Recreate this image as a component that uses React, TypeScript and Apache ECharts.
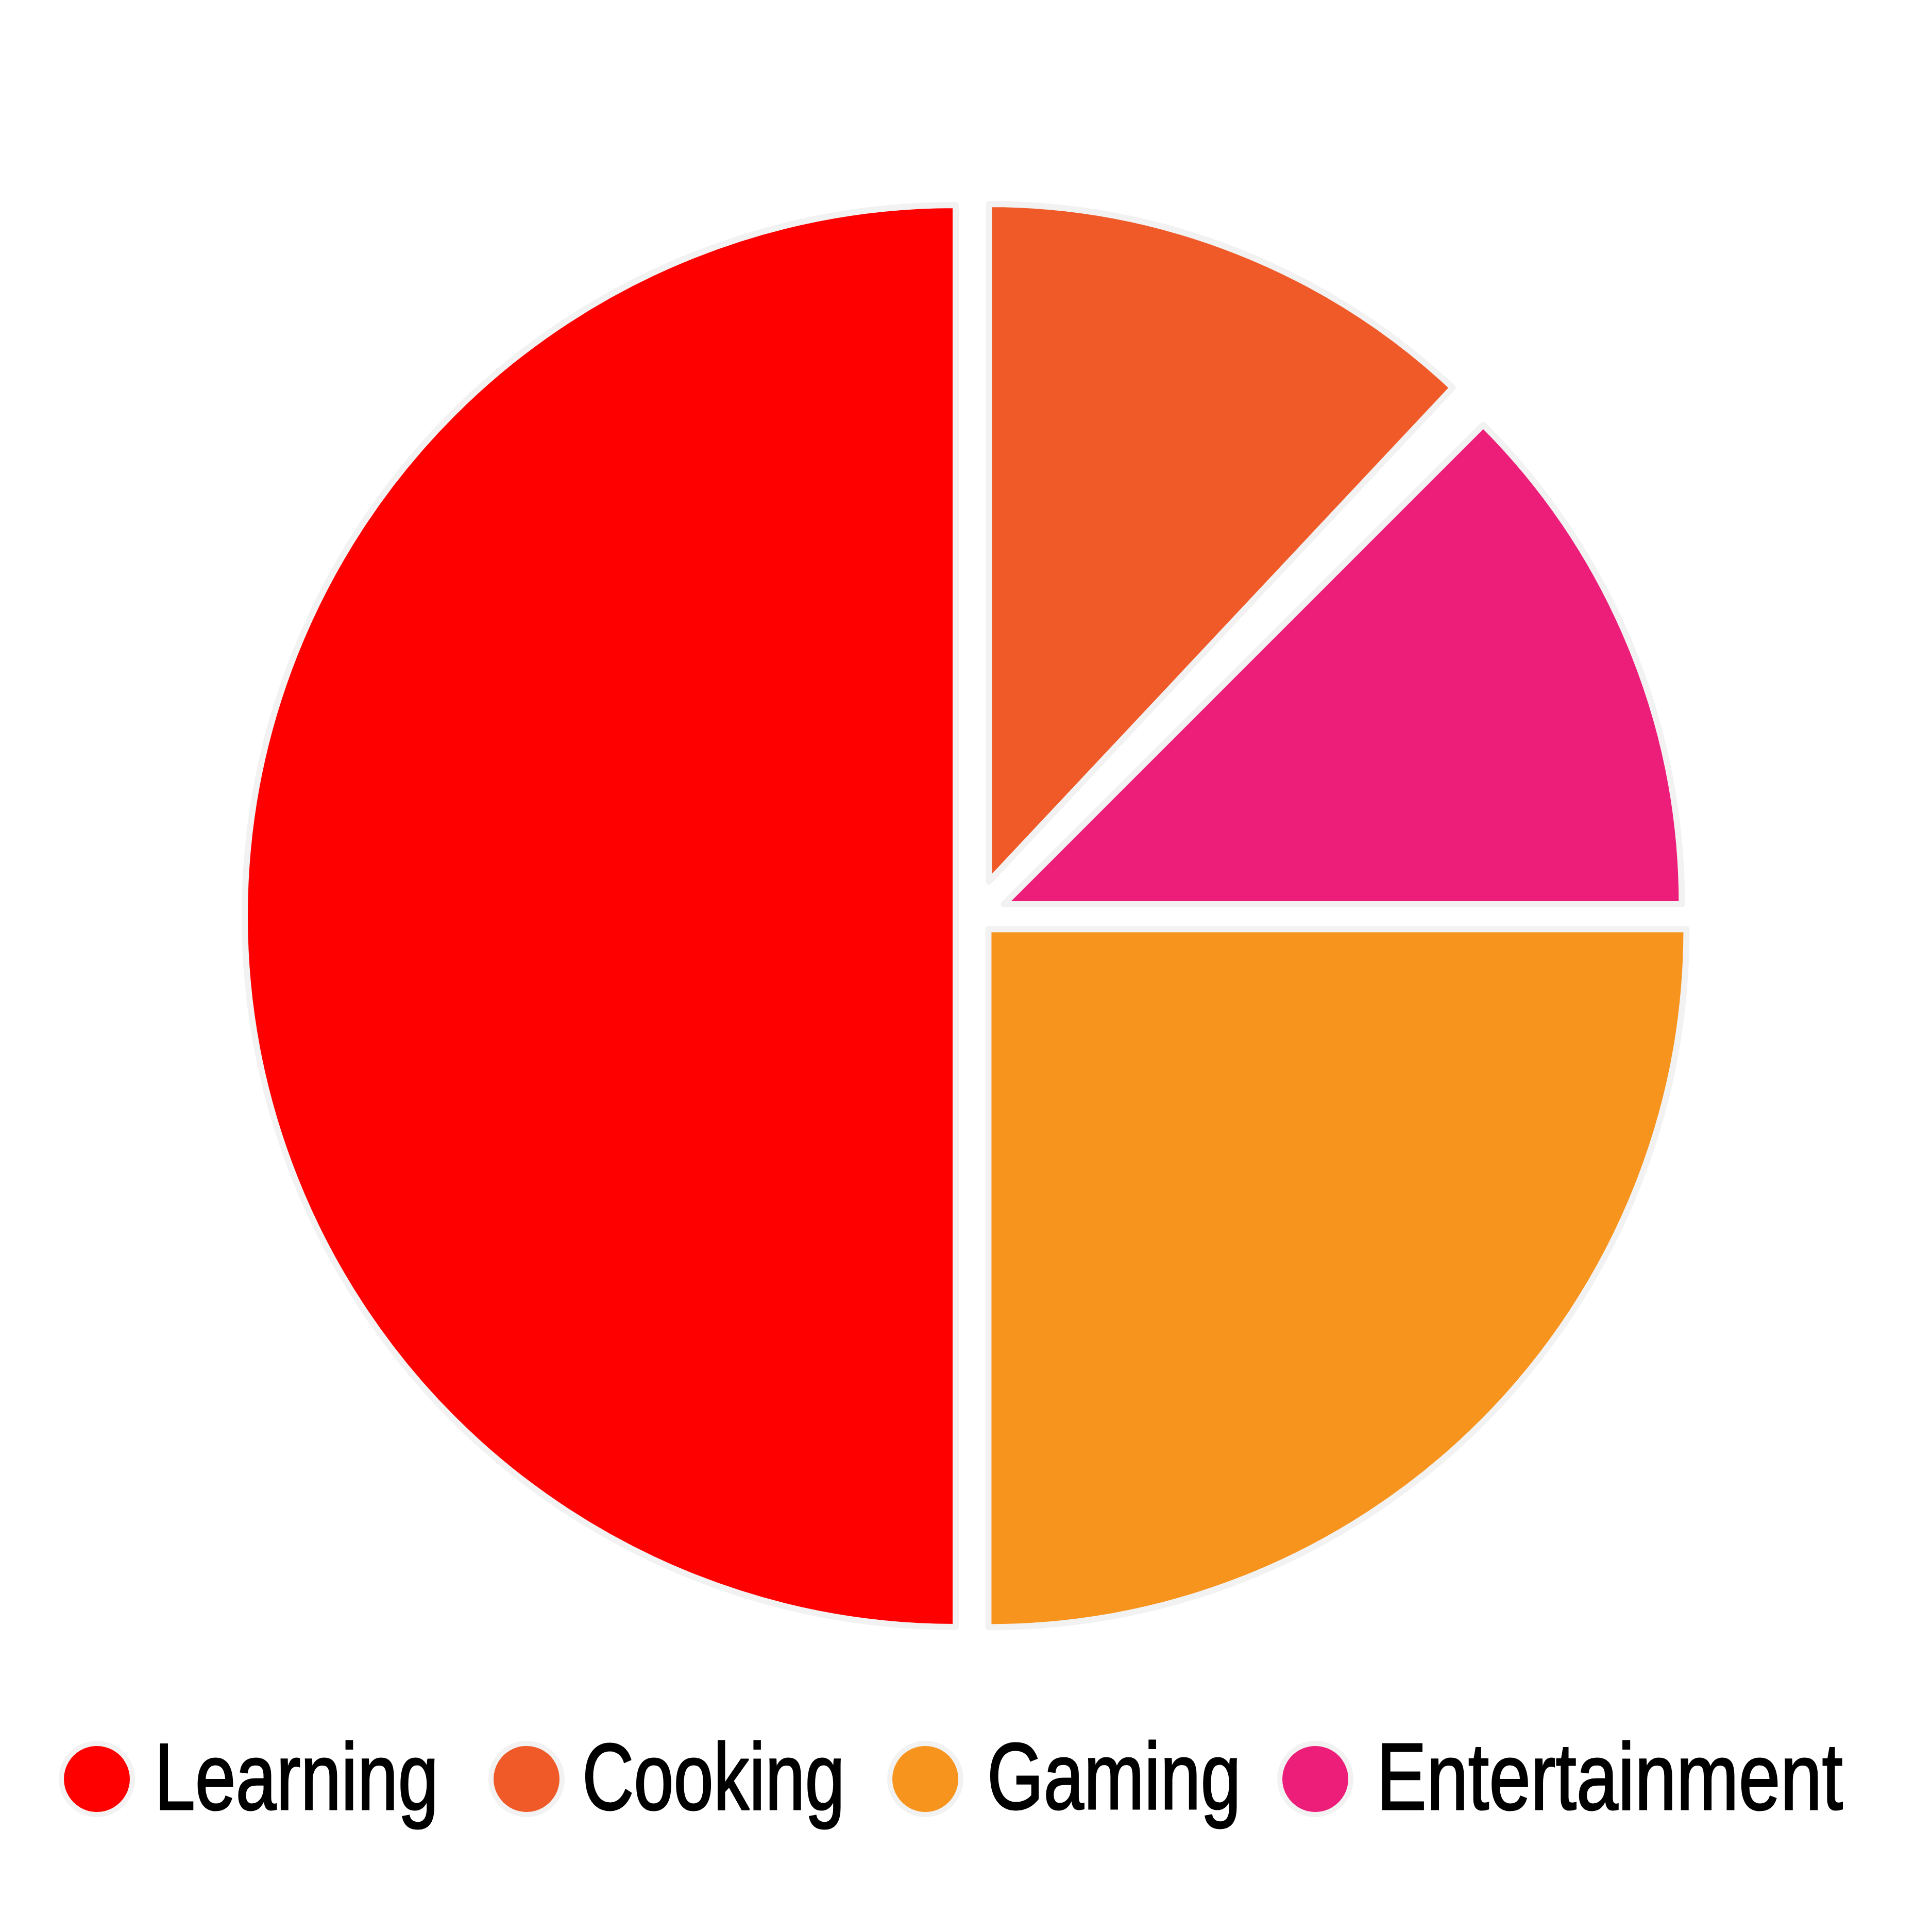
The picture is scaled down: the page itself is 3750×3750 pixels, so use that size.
import React, { useEffect, useRef } from 'react';
import * as echarts from 'echarts';

// ---- data ----
const categories = ['Learning', 'Cooking', 'Gaming', 'Entertainment'];
const shares = [50, 12, 25, 12.5]; // percent of the whole
const TOTAL = 100;
// clockwise order of the slices from 12 o'clock; '' is the unlabelled remainder
const drawOrder = ['Cooking', '', 'Entertainment', 'Gaming', 'Learning'];

// ---- style / layout ----
const colors = ['#fe0000', '#f05a28', '#f7941e', '#ed1e79'];
const borderColor = '#f2f2f2';
const CENTER = [1893, 1778];
const pullOut = [38, 72, 36, 60];
const radii = [1380, 1315, 1355, 1316];

// legend layout
const legendIconX = [188, 1022, 1796, 2553];
const legendTextX = [300, 1130, 1916, 2672];
const legendIconY = 3453;
const legendTextY = 3448;
const legendIconR = 69;
const legendFontSize = 184;
const legendTextScaleX = [0.77, 0.755, 0.765, 0.79];

function valueOf(name: string): number {
  if (name === '') return TOTAL - shares.reduce((a, b) => a + b, 0);
  return shares[categories.indexOf(name)];
}

function buildSeries() {
  return categories.map((cat, ci) => {
    let start = 0;
    for (const n of drawOrder) {
      if (n === cat) break;
      start += valueOf(n);
    }
    const mid = ((start + shares[ci] / 2) / TOTAL) * 2 * Math.PI;
    const cx = CENTER[0] + pullOut[ci] * Math.sin(mid);
    const cy = CENTER[1] - pullOut[ci] * Math.cos(mid);
    return {
      type: 'pie',
      name: cat,
      center: [cx, cy],
      radius: radii[ci],
      startAngle: 90,
      clockwise: true,
      avoidLabelOverlap: false,
      label: { show: false },
      labelLine: { show: false },
      emphasis: { disabled: true },
      silent: true,
      z: 2,
      data: drawOrder.map((n) =>
        n === cat
          ? {
              name: cat,
              value: valueOf(n),
              itemStyle: { color: colors[ci], borderColor, borderWidth: 12 },
            }
          : {
              name: '',
              value: valueOf(n),
              itemStyle: { color: 'rgba(0,0,0,0)', borderWidth: 0 },
            }
      ),
    };
  });
}

function buildLegend() {
  const elements: any[] = [];
  categories.forEach((cat, i) => {
    elements.push({
      type: 'circle',
      shape: { cx: legendIconX[i], cy: legendIconY, r: legendIconR },
      style: { fill: colors[i], stroke: borderColor, lineWidth: 10 },
      silent: true,
    });
    elements.push({
      type: 'text',
      x: legendTextX[i],
      y: legendTextY,
      scaleX: legendTextScaleX[i],
      style: {
        text: cat,
        x: 0,
        y: 0,
        fill: '#000000',
        stroke: '#000000',
        lineWidth: 3,
        fontSize: legendFontSize,
        fontFamily: "'Liberation Sans', Arial, sans-serif",
        align: 'left',
        verticalAlign: 'middle',
      },
      silent: true,
    });
  });
  return elements;
}

export default function App() {
  const ref = useRef<HTMLDivElement>(null);
  useEffect(() => {
    if (!ref.current) return;
    const chart = echarts.init(ref.current, undefined, { renderer: 'svg' });
    chart.setOption({
      animation: false,
      backgroundColor: '#ffffff',
      series: buildSeries(),
      graphic: { elements: buildLegend() },
    });
    return () => chart.dispose();
  }, []);
  return (
    <div
      ref={ref}
      style={{ position: 'fixed', left: 0, top: 0, width: 3750, height: 3750 }}
    />
  );
}
